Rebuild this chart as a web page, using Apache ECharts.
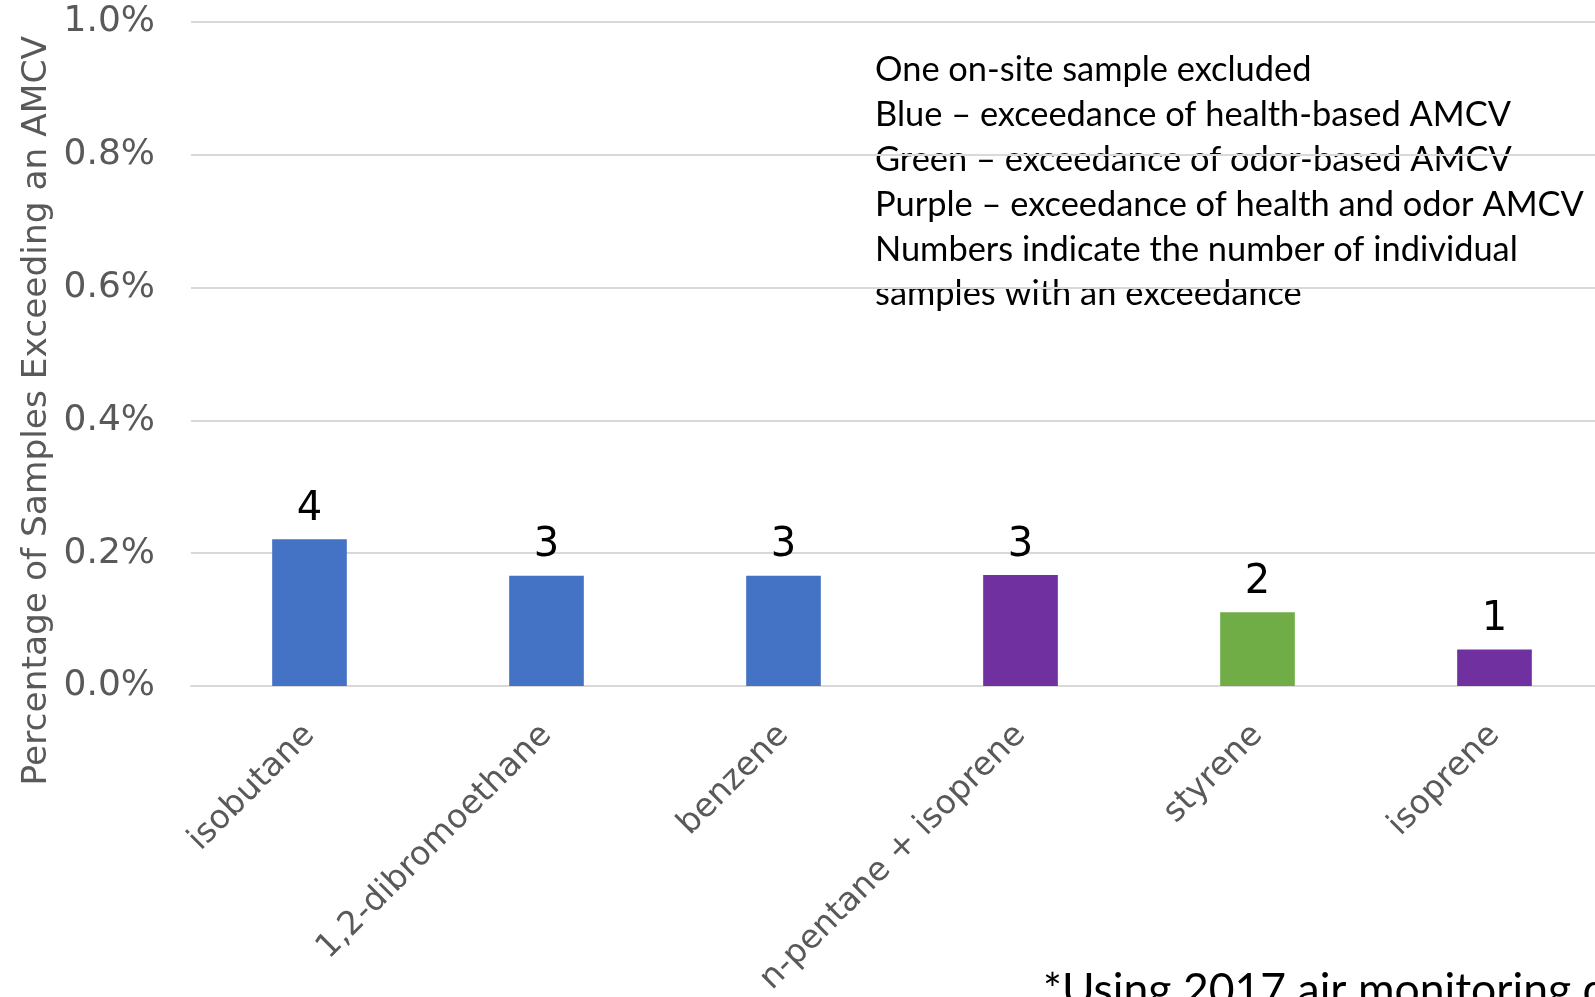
<!DOCTYPE html>
<html>
<head>
<meta charset="utf-8">
<script src="https://cdn.jsdelivr.net/npm/echarts@6/dist/echarts.min.js"></script>
<style>
	html, body { margin: 0; padding: 0; background: #fff; overflow: hidden; }
	#chart { width: 1595px; height: 997px; }
</style>
</head>
<body>
<div id="chart"></div>
<script>
	// 数据
	var categories = ['isobutane', '1,2-dibromoethane', 'benzene', 'n-pentane + isoprene', 'styrene', 'isoprene'];
	var percentValues = [0.221, 0.166, 0.166, 0.167, 0.111, 0.055];
	var sampleCounts = [4, 3, 3, 3, 2, 1];
	var exceedanceType = ['health', 'health', 'health', 'both', 'odor', 'both'];
	var yTicks = [0, 0.2, 0.4, 0.6, 0.8, 1.0];
	var notes = [
		'One on-site sample excluded',
		'Blue \u2013 exceedance of health-based AMCV',
		'Green \u2013 exceedance of odor-based AMCV',
		'Purple \u2013 exceedance of health and odor AMCV',
		'Numbers indicate the number of individual',
		'samples with an exceedance'
	];
	var footnote = '*Using 2017 air monitoring data';

	var typeColor = { health: '#4472C4', odor: '#70AD47', both: '#7030A0' };
	var wideFont = '"DejaVu Sans", sans-serif';
	var noteFont = 'Lato, "Noto Sans", sans-serif';

	var barData = percentValues.map(function (v, i) {
		return { value: v, itemStyle: { color: typeColor[exceedanceType[i]] } };
	});

	var myChart = echarts.init(document.getElementById('chart'));
	var option = {
		animation: false,
		textStyle: { fontFamily: wideFont },
		grid: { left: 191, width: 1422, top: 22, bottom: 311, containLabel: false, outerBoundsMode: 'none' },
		xAxis: {
			type: 'category',
			data: categories,
			axisLine: { show: true, lineStyle: { color: '#D9D9D9', width: 2 } },
			axisTick: { show: false },
			axisLabel: { rotate: 45, interval: 0, margin: 44, fontSize: 33, color: '#595959', fontFamily: wideFont }
		},
		yAxis: {
			type: 'value',
			min: yTicks[0],
			max: yTicks[yTicks.length - 1],
			interval: 0.2,
			axisLine: { show: false },
			axisTick: { show: false },
			splitLine: { lineStyle: { color: '#D9D9D9', width: 2 } },
			axisLabel: {
				margin: 36, fontSize: 36, color: '#595959', fontFamily: wideFont,
				formatter: function (v) { return v.toFixed(1) + '%'; }
			}
		},
		series: [{
			type: 'bar',
			data: barData,
			barWidth: '31.5%',
			label: {
				show: true,
				position: 'top',
				distance: 10,
				fontSize: 40,
				color: '#000',
				fontFamily: wideFont,
				formatter: function (p) { return sampleCounts[p.dataIndex]; }
			}
		}],
		graphic: [
			{
				type: 'text',
				left: 20, top: 36,
				rotation: Math.PI / 2,
				style: { text: 'Percentage of Samples Exceeding an AMCV', fontSize: 34.4, fill: '#595959', fontFamily: wideFont }
			},
			{
				type: 'text',
				left: 875, top: 48,
				style: { text: notes.join('\n'), fontSize: 34.4, lineHeight: 44.8, fill: '#000', fontFamily: noteFont }
			},
			{
				type: 'text',
				left: 1043, top: 968,
				style: { text: footnote, fontSize: 44.5, fill: '#000', fontFamily: noteFont }
			}
		]
	};
	myChart.setOption(option);
</script>
</body>
</html>
